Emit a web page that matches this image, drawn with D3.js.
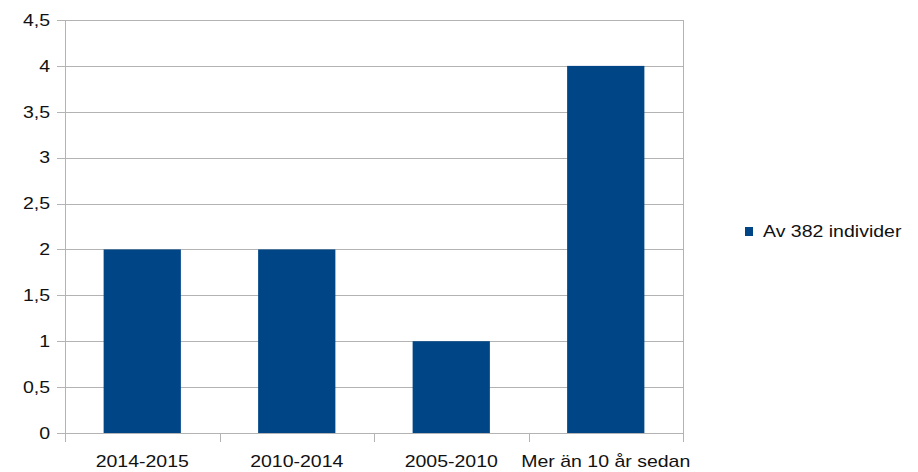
<!DOCTYPE html>
<html>
<head>
<meta charset="utf-8">
<script src="https://cdn.jsdelivr.net/npm/d3@7"></script>
<style>
  body { margin: 0; background: #fff; }
  text { font-family: "Liberation Sans", Arial, sans-serif; fill: #111; }
</style>
</head>
<body>
<script>
var categories = ["2014-2015", "2010-2014", "2005-2010", "Mer än 10 år sedan"];
var values = [2, 2, 1, 4];
var seriesName = "Av 382 individer";
var yTicks = [0, 0.5, 1, 1.5, 2, 2.5, 3, 3.5, 4, 4.5];

var outerWidth = 918;
var outerHeight = 472;
var margin = { top: 20, right: 235, bottom: 39, left: 65 };
var width = outerWidth - margin.left - margin.right;
var height = outerHeight - margin.top - margin.bottom;
var stretch = 1.22; // text in the picture is wider than plain Arial

var svg = d3
  .select("body")
  .append("svg")
  .attr("width", outerWidth)
  .attr("height", outerHeight);

var g = svg
  .append("g")
  .attr("transform", "translate(" + margin.left + "," + margin.top + ")");

var xScale = d3
  .scaleBand()
  .domain(categories)
  .range([0, width])
  .paddingInner(0.5)
  .paddingOuter(0.25);
var yScale = d3.scaleLinear().domain([0, 4.5]).range([height, 0]);

// horizontal grid
g.selectAll(".grid")
  .data(yTicks)
  .enter()
  .append("line")
  .attr("class", "grid")
  .attr("x1", -8)
  .attr("x2", width)
  .attr("y1", (d) => Math.round(yScale(d)) + 0.5)
  .attr("y2", (d) => Math.round(yScale(d)) + 0.5)
  .attr("stroke", "#b3b3b3")
  .attr("stroke-width", 1);

// right border
g.append("line")
  .attr("x1", width + 0.5)
  .attr("x2", width + 0.5)
  .attr("y1", 0)
  .attr("y2", height)
  .attr("stroke", "#b3b3b3");

// bars
g.selectAll(".bar")
  .data(values)
  .enter()
  .append("rect")
  .attr("class", "bar")
  .attr("x", (d, i) => xScale(categories[i]))
  .attr("width", xScale.bandwidth())
  .attr("y", (d) => yScale(d))
  .attr("height", (d) => height - yScale(d))
  .attr("fill", "#004586");

// y axis line
g.append("line")
  .attr("x1", 0.5)
  .attr("x2", 0.5)
  .attr("y1", 0)
  .attr("y2", height + 9)
  .attr("stroke", "#b3b3b3");

// x ticks between categories
var bandEdges = categories.map((c) => xScale(c) - (xScale.step() * xScale.paddingInner()) / 2);
bandEdges.push(width);
g.selectAll(".xtick")
  .data(bandEdges.slice(1))
  .enter()
  .append("line")
  .attr("class", "xtick")
  .attr("x1", (d) => Math.round(d) + 0.5)
  .attr("x2", (d) => Math.round(d) + 0.5)
  .attr("y1", height)
  .attr("y2", height + 9)
  .attr("stroke", "#b3b3b3");

// y labels
g.selectAll(".ylab")
  .data(yTicks)
  .enter()
  .append("text")
  .attr("class", "ylab")
  .attr("transform", (d) => "translate(-15," + yScale(d) + ") scale(" + stretch + ",1)")
  .attr("text-anchor", "end")
  .attr("dy", "0.36em")
  .attr("font-size", 16)
  .text((d) => String(d).replace(".", ","));

// x labels
g.selectAll(".xlab")
  .data(categories)
  .enter()
  .append("text")
  .attr("class", "xlab")
  .attr("transform", (d) => "translate(" + (xScale(d) + xScale.bandwidth() / 2) + "," + (height + 34) + ") scale(" + stretch + ",1)")
  .attr("text-anchor", "middle")
  .attr("font-size", 16)
  .text((d) => d);

// legend
var legend = svg.append("g").attr("transform", "translate(745,227)");
legend
  .append("rect")
  .attr("width", 8)
  .attr("height", 9)
  .attr("fill", "#004586");
legend
  .append("text")
  .attr("transform", "translate(18,10) scale(" + stretch + ",1)")
  .attr("font-size", 16)
  .text(seriesName);
</script>
</body>
</html>
